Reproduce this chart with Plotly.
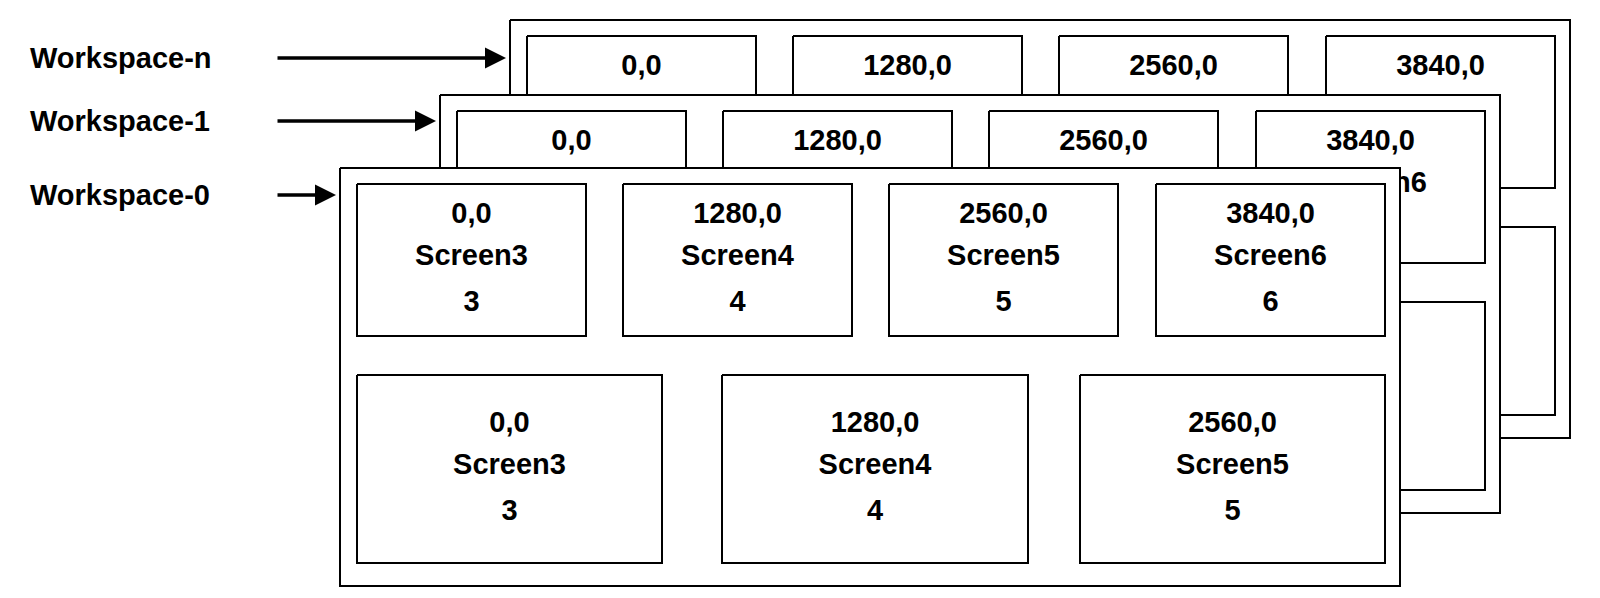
import plotly.graph_objects as go

# workspaces, back to front, with frame top-left corner (px)
workspaces = ["Workspace-n", "Workspace-1", "Workspace-0"]
frame_x = [502, 432, 332]
frame_y = [12, 87, 160]
frame_w = 1060
frame_h = 418

# screen boxes relative to frame origin: (x0, y0, x1, y1)
row1_boxes = [(17, 16, 246, 168), (283, 16, 512, 168), (549, 16, 778, 168), (816, 16, 1045, 168)]
row2_boxes = [(17, 207, 322, 395), (382, 207, 688, 395), (740, 207, 1045, 395)]
row1_labels = [("0,0", "Screen3", "3"), ("1280,0", "Screen4", "4"),
               ("2560,0", "Screen5", "5"), ("3840,0", "Screen6", "6")]
row2_labels = [("0,0", "Screen3", "3"), ("1280,0", "Screen4", "4"), ("2560,0", "Screen5", "5")]
label_arrow_y = [50, 113, 187]

FONT = dict(family="Liberation Sans, Arial", size=29, color="black")
fig = go.Figure()


def rect(x0, y0, x1, y1):
    fig.add_trace(go.Scatter(x=[x0, x1, x1, x0, x0], y=[y0, y0, y1, y1, y0],
                             mode="lines", fill="toself", fillcolor="white",
                             line=dict(color="black", width=2), hoverinfo="skip"))


def texts(xs, ys, ts):
    fig.add_trace(go.Scatter(x=xs, y=ys, text=ts, mode="text", textfont=FONT,
                             hoverinfo="skip"))


for fx, fy in zip(frame_x, frame_y):
    rect(fx, fy, fx + frame_w, fy + frame_h)
    for boxes, labels in ((row1_boxes, row1_labels), (row2_boxes, row2_labels)):
        for (x0, y0, x1, y1), lab in zip(boxes, labels):
            rect(fx + x0, fy + y0, fx + x1, fy + y1)
            cx = fx + (x0 + x1) / 2
            cy = fy + (y0 + y1) / 2
            texts([cx] * 3, [cy - 44, cy - 2, cy + 44],
                  ["<b>%s</b>" % t for t in lab])

for name, ay, fx in zip(workspaces, label_arrow_y, frame_x):
    fig.add_annotation(x=20, y=ay, text="<b>%s</b>" % name, showarrow=False,
                       xanchor="left", font=FONT)
    fig.add_annotation(x=fx - 4, y=ay, ax=268, ay=ay, axref="x", ayref="y",
                       xref="x", yref="y", text="", showarrow=True,
                       arrowhead=2, arrowsize=1.2, arrowwidth=3.5, arrowcolor="black")

fig.update_layout(
    width=1600, height=598, showlegend=False,
    margin=dict(l=0, r=0, t=0, b=0),
    plot_bgcolor="white", paper_bgcolor="white",
    xaxis=dict(range=[0, 1600], visible=False),
    yaxis=dict(range=[598, 0], visible=False),
)
fig.write_html("out.html")
